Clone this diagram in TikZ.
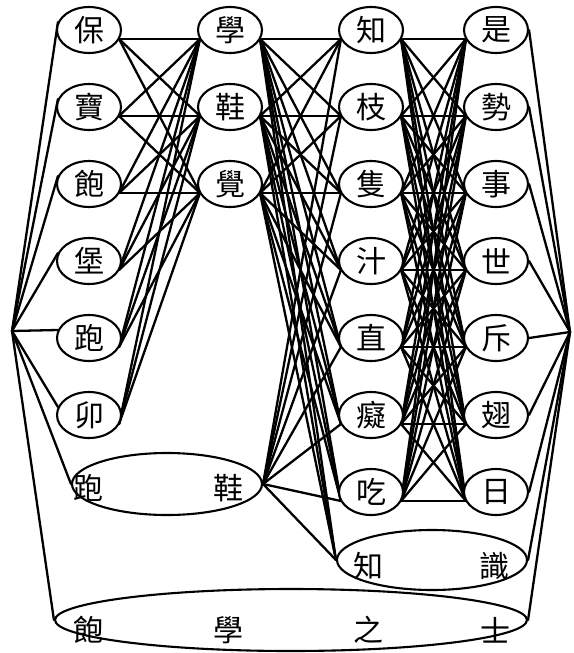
\documentclass[tikz,border=0pt]{standalone}
\usepackage{fontspec}
\newfontfamily\cjk{Noto Sans CJK TC}
\usetikzlibrary{shapes.geometric,backgrounds}
\begin{document}
\begin{tikzpicture}[x=1pt,y=-1pt,
  ln/.style={line width=2.3pt, line cap=round},
  el/.style={ellipse, draw, line width=2.1pt, fill=white, inner sep=0pt,
    minimum width=64pt, minimum height=46pt, font=\cjk\fontsize{30}{30}\selectfont},
  bigel/.style={ellipse, draw, line width=2.1pt, fill=white, inner sep=0pt},
  lbl/.style={inner sep=0pt, font=\cjk\fontsize{30}{30}\selectfont}]
\useasboundingbox (0,0) rectangle (573,653);
% word nodes
\foreach \t [count=\i] in {保,寶,飽,堡,跑,卯}
  \node[el] (a\i) at (89,{30+77*(\i-1)}) {\t};
\foreach \t [count=\i] in {學,鞋,覺}
  \node[el] (b\i) at (230,{30+77*(\i-1)}) {\t};
\foreach \t [count=\i] in {知,枝,隻,汁,直,癡,吃}
  \node[el] (c\i) at (371,{30+77*(\i-1)}) {\t};
\foreach \t [count=\i] in {是,勢,事,世,斥,翅,日}
  \node[el] (d\i) at (496,{30+77*(\i-1)}) {\t};
% long words
\node[bigel, minimum width=190pt, minimum height=62pt] (pb) at (167,484) {};
\node[lbl] (pbA) at (88,488) {跑};
\node[lbl] (pbB) at (228,488) {鞋};
\node[bigel, minimum width=190pt, minimum height=60pt] (zs) at (432,560) {};
\node[lbl] (zsA) at (368,566) {知};
\node[lbl] (zsB) at (494,566) {識};
\node[bigel, minimum width=472pt, minimum height=62pt] (bx) at (291,620) {};
\node[lbl] (bxA) at (88,630) {飽};
\node[lbl] (bxB) at (228,630) {學};
\node[lbl] (bxC) at (368,630) {之};
\node[lbl] (bxD) at (495,630) {士};
% start and end
\coordinate (S) at (12,331);
\coordinate (E) at (570,332);
\begin{scope}[on background layer]
  \foreach \i in {1,...,6}
    \draw[ln] (S) -- ([shift={(2pt,8pt)}]a\i.west);
  \draw[ln] (S) -- (pb.west);
  \draw[ln] (S) -- (bx.west);
  \foreach \i in {1,...,6}
    \foreach \j in {1,2,3}
      \draw[ln] ([shift={(-3pt,-9pt)}]a\i.east) -- ([shift={(3pt,-9pt)}]b\j.west);
  \foreach \i in {1,2,3} {
    \foreach \j in {1,...,7}
      \draw[ln] ([shift={(-3pt,-9pt)}]b\i.east) -- ([shift={(3pt,-9pt)}]c\j.west);
    \draw[ln] ([shift={(-3pt,-9pt)}]b\i.east) -- (zs.west);
  }
  \foreach \j in {1,...,7}
    \draw[ln] (pb.east) -- ([shift={(3pt,-9pt)}]c\j.west);
  \draw[ln] (pb.east) -- (zs.west);
  \foreach \i in {1,...,7}
    \foreach \j in {1,...,7}
      \draw[ln] ([shift={(-3pt,-9pt)}]c\i.east) -- ([shift={(3pt,-9pt)}]d\j.west);
  \foreach \j in {1,...,7}
    \draw[ln] (d\j.east) -- (E);
  \draw[ln] (zs.east) -- (E);
  \draw[ln] (bx.east) -- (E);
\end{scope}
\end{tikzpicture}
\end{document}
